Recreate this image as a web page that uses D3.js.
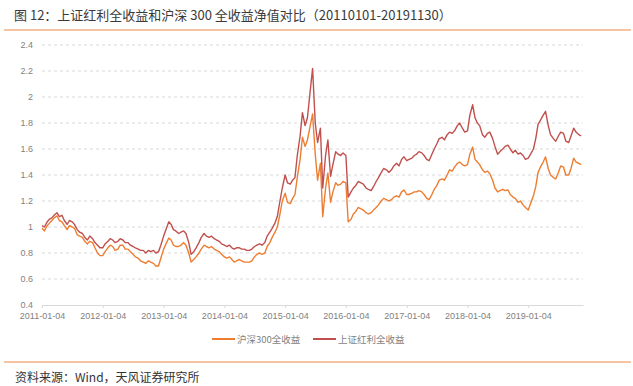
<!DOCTYPE html>
<html>
<head>
<meta charset="utf-8">
<script src="https://cdn.jsdelivr.net/npm/d3@7"></script>
<style>
  body { margin: 0; background: #fff; }
  svg { display: block; }
</style>
</head>
<body>
<div id="chart"></div>
<script>
// 两条净值序列，每月两个点（月初、月中），2011-01 至 2019-11
const hs300 = [
  0.99, 0.97, 1.01, 1.03, 1.05, 1.07, 1.085, 1.05, 1.04, 1.01, 0.98, 1.01,
  1.00, 0.99, 0.94, 0.93, 0.92, 0.89, 0.87, 0.89, 0.88, 0.84, 0.80, 0.78,
  0.78, 0.81, 0.84, 0.86, 0.85, 0.82, 0.83, 0.86, 0.86, 0.83, 0.83, 0.81,
  0.79, 0.77, 0.76, 0.74, 0.73, 0.72, 0.74, 0.73, 0.72, 0.70, 0.70, 0.76,
  0.83, 0.87, 0.915, 0.90, 0.86, 0.85, 0.85, 0.86, 0.88, 0.86, 0.80, 0.73,
  0.75, 0.77, 0.80, 0.83, 0.86, 0.85, 0.84, 0.85, 0.83, 0.82, 0.81, 0.79,
  0.77, 0.76, 0.77, 0.75, 0.73, 0.74, 0.75, 0.74, 0.73, 0.73, 0.73, 0.74,
  0.77, 0.79, 0.80, 0.79, 0.80, 0.85, 0.88, 0.92, 0.96, 1.00, 1.10, 1.20,
  1.26, 1.19, 1.18, 1.22, 1.25, 1.38, 1.52, 1.69, 1.62, 1.67, 1.78, 1.87,
  1.56, 1.36, 1.49, 1.08, 1.30, 1.415, 1.19, 1.27, 1.34, 1.32, 1.33, 1.35,
  1.34, 1.04, 1.06, 1.10, 1.12, 1.15, 1.14, 1.13, 1.11, 1.10, 1.11, 1.13,
  1.15, 1.17, 1.20, 1.22, 1.21, 1.20, 1.21, 1.23, 1.24, 1.23, 1.27, 1.285,
  1.25, 1.25, 1.26, 1.27, 1.27, 1.28, 1.27, 1.25, 1.22, 1.21, 1.25, 1.29,
  1.32, 1.36, 1.37, 1.36, 1.40, 1.44, 1.43, 1.46, 1.49, 1.50, 1.48, 1.47,
  1.48, 1.56, 1.615, 1.52, 1.50, 1.48, 1.44, 1.42, 1.43, 1.41, 1.36, 1.30,
  1.27, 1.28, 1.29, 1.28, 1.285, 1.25, 1.23, 1.22, 1.19, 1.20, 1.17, 1.15,
  1.13, 1.18, 1.24, 1.31, 1.42, 1.46, 1.50, 1.54, 1.45, 1.40, 1.38, 1.37,
  1.42, 1.47, 1.46, 1.40, 1.40, 1.45, 1.53, 1.50, 1.49, 1.48
]

const dividend = [
  1.01, 1.00, 1.04, 1.06, 1.07, 1.09, 1.11, 1.08, 1.09, 1.05, 1.02, 1.05,
  1.04, 1.02, 0.98, 0.96, 0.95, 0.92, 0.90, 0.93, 0.91, 0.88, 0.86, 0.84,
  0.84, 0.87, 0.89, 0.91, 0.90, 0.88, 0.89, 0.91, 0.90, 0.88, 0.88, 0.86,
  0.85, 0.84, 0.83, 0.82, 0.82, 0.80, 0.82, 0.81, 0.82, 0.80, 0.81, 0.86,
  0.93, 0.98, 1.04, 1.02, 0.98, 0.97, 0.95, 0.96, 0.97, 0.95, 0.88, 0.79,
  0.81, 0.84, 0.88, 0.92, 0.95, 0.93, 0.92, 0.93, 0.91, 0.90, 0.89, 0.87,
  0.86, 0.85, 0.86, 0.84, 0.83, 0.84, 0.84, 0.83, 0.83, 0.82, 0.82, 0.83,
  0.85, 0.86, 0.87, 0.86, 0.88, 0.93, 0.96, 0.99, 1.03, 1.08, 1.20, 1.30,
  1.40, 1.34, 1.33, 1.36, 1.38, 1.55, 1.70, 1.88, 1.78, 1.84, 2.05, 2.22,
  1.80, 1.65, 1.76, 1.30, 1.55, 1.67, 1.39, 1.48, 1.58, 1.56, 1.55, 1.57,
  1.55, 1.23, 1.27, 1.30, 1.32, 1.35, 1.34, 1.33, 1.30, 1.29, 1.28, 1.31,
  1.35, 1.38, 1.42, 1.45, 1.44, 1.42, 1.44, 1.47, 1.49, 1.47, 1.52, 1.54,
  1.51, 1.52, 1.53, 1.55, 1.56, 1.58, 1.57, 1.55, 1.52, 1.51, 1.56, 1.60,
  1.64, 1.68, 1.69, 1.67, 1.71, 1.73, 1.72, 1.74, 1.78, 1.80, 1.76, 1.73,
  1.74, 1.86, 1.94, 1.84, 1.80, 1.78, 1.71, 1.69, 1.72, 1.73, 1.68, 1.62,
  1.56, 1.58, 1.60, 1.62, 1.63, 1.60, 1.57, 1.59, 1.56, 1.57, 1.55, 1.52,
  1.53, 1.56, 1.60, 1.68, 1.79, 1.82, 1.86, 1.89, 1.78, 1.71, 1.68, 1.66,
  1.70, 1.73, 1.72, 1.66, 1.65, 1.70, 1.76, 1.73, 1.71, 1.70
]

const yTicks = [0.4, 0.6, 0.8, 1, 1.2, 1.4, 1.6, 1.8, 2, 2.2, 2.4]
const xTickLabels = ['2011-01-04', '2012-01-04', '2013-01-04', '2014-01-04', '2015-01-04',
  '2016-01-04', '2017-01-04', '2018-01-04', '2019-01-04']
const seriesNames = ['沪深300全收益', '上证红利全收益']

const width = 633
const height = 386
const parse = d3.utcParse('%Y-%m-%d')

// 月初(4日)与月中(18日)两个观测日
const dates = []
d3.utcMonth.range(Date.UTC(2011, 0, 1), Date.UTC(2019, 10, 2)).forEach(m => {
  dates.push(new Date(Date.UTC(m.getUTCFullYear(), m.getUTCMonth(), 4)))
  dates.push(new Date(Date.UTC(m.getUTCFullYear(), m.getUTCMonth(), 18)))
})

const x = d3.scaleUtc()
  .domain([parse('2011-01-04'), parse('2019-11-29')])
  .range([42, 583])
const y = d3.scaleLinear().domain([0.4, 2.4]).range([305, 45])

const svg = d3.select('#chart').append('svg')
  .attr('width', width)
  .attr('height', height)
  .style('font-family', '"Noto Sans CJK SC", "Liberation Sans", sans-serif')

// title
svg.append('text')
  .attr('x', 14)
  .attr('y', 20)
  .attr('fill', '#3a3a3a')
  .style('font-size', '13px')
  .text('图 12：上证红利全收益和沪深 300 全收益净值对比（20110101-20191130）')

svg.append('line')
  .attr('x1', 4).attr('x2', 631).attr('y1', 30).attr('y2', 30)
  .attr('stroke', '#f4b183').attr('stroke-width', 1.5)

// grid
svg.append('g').selectAll('line')
  .data(yTicks.slice(1))
  .enter().append('line')
  .attr('x1', 42).attr('x2', 583)
  .attr('y1', d => y(d)).attr('y2', d => y(d))
  .attr('stroke', '#d9d9d9')
  .attr('stroke-dasharray', '3,3')

// y axis labels
const yAxis = svg.append('g')
  .attr('transform', 'translate(42,0)')
  .call(d3.axisLeft(y).tickValues(yTicks).tickSize(0).tickPadding(9).tickFormat(d3.format('~g')))
yAxis.select('.domain').remove()
yAxis.selectAll('text')
  .attr('fill', '#7f7f7f')
  .style('font-family', '"Liberation Sans", sans-serif')
  .style('font-size', '9px')

// x axis
const xAxis = svg.append('g')
  .attr('transform', `translate(0,${y(0.4)})`)
  .call(d3.axisBottom(x)
    .tickValues(xTickLabels.map(parse))
    .tickSizeInner(3).tickSizeOuter(0).tickPadding(5)
    .tickFormat(d3.utcFormat('%Y-%m-%d')))
xAxis.select('.domain').attr('stroke', '#d9d9d9')
xAxis.selectAll('.tick line').attr('stroke', '#d9d9d9')
xAxis.selectAll('text')
  .attr('fill', '#7f7f7f')
  .style('font-family', '"Liberation Sans", sans-serif')
  .style('font-size', '9px')

// lines
const colors = ['#ed7d31', '#c0504d']
const line = d3.line()
  .x((d, i) => x(dates[i]))
  .y(d => y(d))

;[hs300, dividend].forEach((s, k) => {
  svg.append('path')
    .datum(s)
    .attr('fill', 'none')
    .attr('stroke', colors[k])
    .attr('stroke-width', 1.4)
    .attr('stroke-linejoin', 'round')
    .attr('d', line)
})

// legend
const lg = svg.append('g').attr('transform', 'translate(212,339)')
const item = lg.selectAll('g').data(seriesNames).enter()
  .append('g')
  .attr('transform', (d, i) => `translate(${i * 101},0)`)
item.append('line')
  .attr('x1', 0).attr('x2', 23)
  .attr('stroke', (d, i) => colors[i]).attr('stroke-width', 2)
item.append('text')
  .attr('x', 25).attr('dy', 3.5)
  .attr('fill', '#7f7f7f')
  .style('font-size', '9.5px')
  .text(d => d)

// source
svg.append('line')
  .attr('x1', 4).attr('x2', 631).attr('y1', 362).attr('y2', 362)
  .attr('stroke', '#f4b183').attr('stroke-width', 1.5)
svg.append('text')
  .attr('x', 15).attr('y', 382)
  .attr('fill', '#333')
  .style('font-size', '12px')
  .text('资料来源：Wind，天风证券研究所')
</script>
</body>
</html>
